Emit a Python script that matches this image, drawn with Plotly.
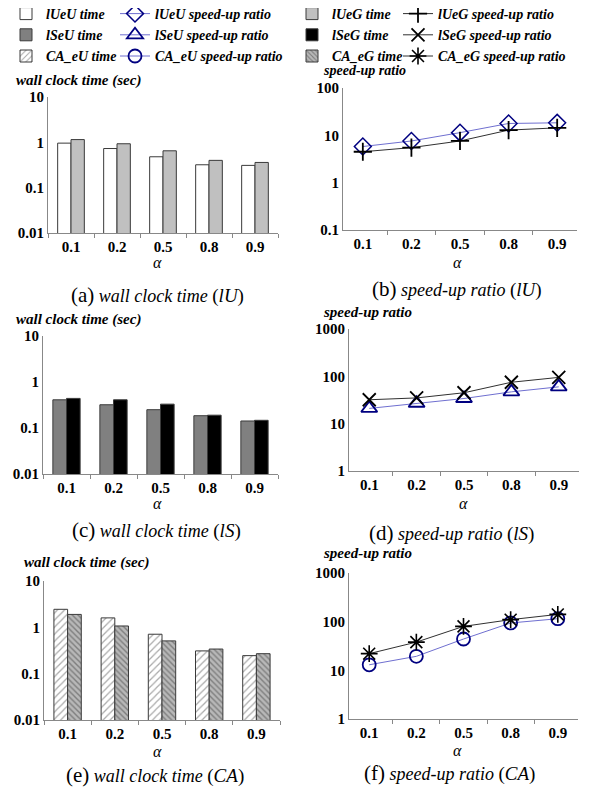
import plotly.graph_objects as go

# ---------------- data ----------------
alpha = ["0.1", "0.2", "0.5", "0.8", "0.9"]

lUeU_time = [0.96, 0.73, 0.48, 0.32, 0.31]
lUeG_time = [1.15, 0.93, 0.65, 0.40, 0.36]
lUeU_speedup = [5.8, 7.6, 11.4, 17.8, 18.4]
lUeG_speedup = [4.5, 5.5, 7.6, 12.9, 14.4]

lSeU_time = [0.41, 0.32, 0.25, 0.185, 0.142]
lSeG_time = [0.44, 0.41, 0.33, 0.19, 0.147]
lSeU_speedup = [21, 27, 34, 47, 60]
lSeG_speedup = [32, 35, 45, 75, 95]

CA_eU_time = [2.45, 1.6, 0.71, 0.31, 0.245]
CA_eG_time = [1.9, 1.07, 0.51, 0.34, 0.27]
CA_eU_speedup = [13, 19.4, 44, 94, 115]
CA_eG_speedup = [22, 38, 80, 110, 141]

time_ticks = [0.01, 0.1, 1, 10]
time_ticktext = ["0.01", "0.1", "1", "10"]
speed_ticks_b = [0.1, 1, 10, 100]
speed_ticktext_b = ["0.1", "1", "10", "100"]
speed_ticks_df = [1, 10, 100, 1000]
speed_ticktext_df = ["1", "10", "100", "1000"]

# ---------------- layout helpers ----------------
OFF = 8                      # page body margin in the browser
W, H = 590 - OFF, 796 - OFF  # figure size that fits the window
SERIF = "Liberation Serif"


def px_x(p):
    return (p - OFF) / W


def px_y(p):
    return 1 - (p - OFF) / H


def xd(a, b):
    return [px_x(a), px_x(b)]


def yd(top, bottom):
    return [px_y(bottom), px_y(top)]


fig = go.Figure()

BAR_LINE = dict(color="#3a3a3a", width=1)
BLUE_LINE = "#6f6fd0"
DARK_LINE = "#303030"
NAVY = "#000080"

# panel (a)
fig.add_trace(go.Bar(x=alpha, y=lUeU_time, name="lUeU time", marker=dict(color="white", line=BAR_LINE),
                     xaxis="x", yaxis="y", legend="legend"))
fig.add_trace(go.Bar(x=alpha, y=lUeG_time, name="lUeG time", marker=dict(color="#c0c0c0", line=BAR_LINE),
                     xaxis="x", yaxis="y", legend="legend3"))
# panel (b)
fig.add_trace(go.Scatter(x=alpha, y=lUeU_speedup, name="lUeU speed-up ratio", mode="lines+markers",
                         line=dict(color=BLUE_LINE, width=1),
                         marker=dict(symbol="diamond-open", size=13, color=NAVY, line=dict(width=1.5, color=NAVY)),
                         xaxis="x2", yaxis="y2", legend="legend2"))
fig.add_trace(go.Scatter(x=alpha, y=lUeG_speedup, name="lUeG speed-up ratio", mode="lines+markers",
                         line=dict(color=DARK_LINE, width=1),
                         marker=dict(symbol="cross-thin-open", size=13, color="black", line=dict(width=1.8, color="black")),
                         xaxis="x2", yaxis="y2", legend="legend4"))
# panel (c)
fig.add_trace(go.Bar(x=alpha, y=lSeU_time, name="lSeU time", marker=dict(color="#808080", line=BAR_LINE),
                     xaxis="x3", yaxis="y3", legend="legend"))
fig.add_trace(go.Bar(x=alpha, y=lSeG_time, name="lSeG time", marker=dict(color="black", line=BAR_LINE),
                     xaxis="x3", yaxis="y3", legend="legend3"))
# panel (d)
fig.add_trace(go.Scatter(x=alpha, y=lSeU_speedup, name="lSeU speed-up ratio", mode="lines+markers",
                         line=dict(color=BLUE_LINE, width=1),
                         marker=dict(symbol="triangle-up-open", size=14, color=NAVY, line=dict(width=1.8, color=NAVY)),
                         xaxis="x4", yaxis="y4", legend="legend2"))
fig.add_trace(go.Scatter(x=alpha, y=lSeG_speedup, name="lSeG speed-up ratio", mode="lines+markers",
                         line=dict(color=DARK_LINE, width=1),
                         marker=dict(symbol="x-thin-open", size=13, color="black", line=dict(width=1.8, color="black")),
                         xaxis="x4", yaxis="y4", legend="legend4"))
# panel (e)
fig.add_trace(go.Bar(x=alpha, y=CA_eU_time, name="CA_eU time",
                     marker=dict(color="white", line=BAR_LINE,
                                 pattern=dict(shape="/", fgcolor="#555555", bgcolor="white", size=5, solidity=0.25)),
                     xaxis="x5", yaxis="y5", legend="legend"))
fig.add_trace(go.Bar(x=alpha, y=CA_eG_time, name="CA_eG time",
                     marker=dict(color="#b0b0b0", line=BAR_LINE,
                                 pattern=dict(shape="\\", fgcolor="#444444", bgcolor="#b8b8b8", size=4, solidity=0.35)),
                     xaxis="x5", yaxis="y5", legend="legend3"))
# panel (f)
fig.add_trace(go.Scatter(x=alpha, y=CA_eU_speedup, name="CA_eU speed-up ratio", mode="lines+markers",
                         line=dict(color=BLUE_LINE, width=1),
                         marker=dict(symbol="circle-open", size=13, color=NAVY, line=dict(width=1.8, color=NAVY)),
                         xaxis="x6", yaxis="y6", legend="legend2"))
fig.add_trace(go.Scatter(x=alpha, y=CA_eG_speedup, name="CA_eG speed-up ratio", mode="lines+markers",
                         line=dict(color=DARK_LINE, width=1),
                         marker=dict(symbol="asterisk-open", size=14, color="black", line=dict(width=1.6, color="black")),
                         xaxis="x6", yaxis="y6", legend="legend4"))

tickfont = dict(family=SERIF, size=15, color="black", weight="bold")


def xaxis(domain, anchor):
    return dict(domain=domain, anchor=anchor, type="category", showgrid=False, showline=True,
                linecolor="#888888", linewidth=1, ticks="outside", tickson="boundaries", ticklen=4,
                tickcolor="#888888", tickfont=tickfont, zeroline=False, automargin=False)


def yaxis(domain, anchor, rng, tv, tt):
    return dict(domain=domain, anchor=anchor, type="log", range=rng, showgrid=False, showline=True,
                linecolor="#888888", linewidth=1, ticks="", tickvals=tv, ticktext=tt,
                tickfont=tickfont, zeroline=False, automargin=False)


# pixel boxes of each plot area (window pixels)
fig.update_layout(
    xaxis=xaxis(xd(48, 278), "y"), yaxis=yaxis(yd(97, 233), "x", [-2, 1], time_ticks, time_ticktext),
    xaxis2=xaxis(xd(343, 577), "y2"), yaxis2=yaxis(yd(88, 230), "x2", [-1, 2], speed_ticks_b, speed_ticktext_b),
    xaxis3=xaxis(xd(43, 278), "y3"), yaxis3=yaxis(yd(336, 474), "x3", [-2, 1], time_ticks, time_ticktext),
    xaxis4=xaxis(xd(349, 579), "y4"), yaxis4=yaxis(yd(329, 471), "x4", [0, 3], speed_ticks_df, speed_ticktext_df),
    xaxis5=xaxis(xd(44, 280), "y5"), yaxis5=yaxis(yd(581, 720), "x5", [-2, 1], time_ticks, time_ticktext),
    xaxis6=xaxis(xd(349, 578), "y6"), yaxis6=yaxis(yd(573, 719), "x6", [0, 3], speed_ticks_df, speed_ticktext_df),
)

# legends: four vertical columns
legfont = dict(family=SERIF, size=14, color="black", style="italic", weight="bold")


def leg(text_left_px):
    return dict(x=(text_left_px - 39 - OFF) / W, y=1 + 10 / H, xanchor="left", yanchor="top",
                orientation="v", font=legfont, bgcolor="rgba(0,0,0,0)", itemwidth=30,
                traceorder="normal")


fig.update_layout(legend=leg(45), legend2=leg(154), legend3=leg(331), legend4=leg(437))

# annotations: axis titles, alpha labels, captions
ann = []


def text(xpx, ypx, s, size, xanchor="center", bold=False, italic=False):
    ann.append(dict(x=px_x(xpx), y=px_y(ypx), xref="paper", yref="paper", text=s, showarrow=False,
                    xanchor=xanchor, yanchor="middle",
                    font=dict(family=SERIF, size=size, color="black",
                              weight="bold" if bold else "normal",
                              style="italic" if italic else "normal")))


# y titles
text(14, 80, "wall clock time (sec)", 15, "left", bold=True, italic=True)
text(321, 71, "speed-up ratio", 14, "left", bold=True, italic=True)
text(14, 319, "wall clock time (sec)", 15, "left", bold=True, italic=True)
text(321, 312, "speed-up ratio", 15, "left", bold=True, italic=True)
text(22, 562, "wall clock time (sec)", 15, "left", bold=True, italic=True)
text(321, 553, "speed-up ratio", 15, "left", bold=True, italic=True)

# alpha labels
for xp, yp in [(158, 262), (457, 262), (158, 503), (463, 503), (157, 751), (457, 750)]:
    text(xp, yp, "<i>α</i>", 16)


def cap(letter, body, tag):
    return ("<span style='font-size:21px'>(%s)</span> <i>%s</i> <span style='font-size:19px'>(<i>%s</i>)</span>"
            % (letter, body, tag))


text(157, 295, cap("a", "wall clock time", "lU"), 18)
text(457, 289, cap("b", "speed-up ratio", "lU"), 18)
text(156, 530, cap("c", "wall clock time", "lS"), 18)
text(451, 533, cap("d", "speed-up ratio", "lS"), 18)
text(155, 775, cap("e", "wall clock time", "CA"), 18)
text(449, 773, cap("f", "speed-up ratio", "CA"), 18)

fig.update_layout(
    annotations=ann,
    width=W, height=H,
    margin=dict(l=0, r=0, t=0, b=0, autoexpand=False),
    paper_bgcolor="white", plot_bgcolor="white",
    barmode="group", bargap=0.42, bargroupgap=0.0,
    showlegend=True,
)

fig.write_html("out.html")
